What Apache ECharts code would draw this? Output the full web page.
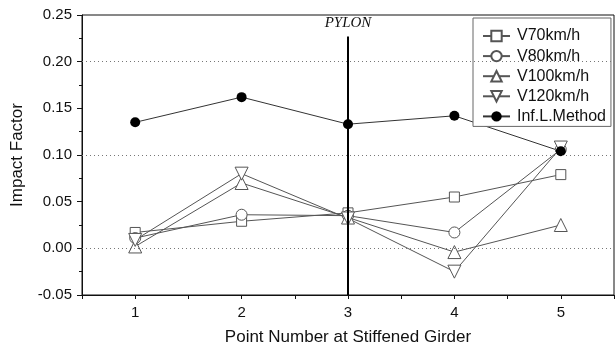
<!DOCTYPE html>
<html>
<head>
<meta charset="utf-8">
<script src="https://cdn.jsdelivr.net/npm/echarts@6/dist/echarts.min.js"></script>
<style>
  html, body { margin: 0; padding: 0; background: #fff; }
  #chart { width: 616px; height: 351px; }
</style>
</head>
<body>
<div id="chart"></div>
<script>
// Measuring points along the stiffened girder
const pointNumbers = [1, 2, 3, 4, 5];

// Impact factor per speed case
const v70 = [0.017, 0.029, 0.038, 0.055, 0.079];
const v80 = [0.011, 0.036, 0.035, 0.017, 0.106];
const v100 = [0.002, 0.070, 0.033, -0.004, 0.025];
const v120 = [0.009, 0.080, 0.032, -0.025, 0.108];
const infLine = [0.135, 0.162, 0.133, 0.142, 0.104];

// Reference grid lines and pylon position
const gridLineValues = [0.0, 0.1, 0.2];
const pylonPoint = 3;
const pylonTop = 0.227;
const yMin = -0.05, yMax = 0.25;

const FONT = '"Liberation Sans", Arial, sans-serif';
const pairs = arr => pointNumbers.map((x, i) => [x, arr[i]]);

const openMarker = {
  color: '#fff',
  borderColor: '#555',
  borderWidth: 1
};
const thinLine = { color: '#555', width: 1 };

function speedSeries(name, data, symbol, size, rotate) {
  return {
    name: name,
    type: 'line',
    data: pairs(data),
    symbol: symbol,
    symbolSize: size,
    symbolRotate: rotate || 0,
    showAllSymbol: true,
    lineStyle: thinLine,
    itemStyle: openMarker,
    emphasis: { disabled: true },
    animation: false
  };
}

const chart = echarts.init(document.getElementById('chart'), null, { renderer: 'canvas' });

chart.setOption({
  animation: false,
  backgroundColor: '#fff',
  textStyle: { fontFamily: FONT },
  grid: {
    left: 82, right: 2, top: 15, bottom: 56,
    show: true,
    borderColor: '#111',
    borderWidth: 1,
    backgroundColor: 'transparent'
  },
  xAxis: {
    type: 'value',
    min: 0.5, max: 5.5, interval: 0.5,
    name: 'Point Number at Stiffened Girder',
    nameLocation: 'middle',
    nameGap: 34,
    nameTextStyle: { fontSize: 17, color: '#111', fontFamily: FONT },
    axisLine: { show: true, onZero: false, lineStyle: { color: '#111', width: 1 } },
    axisTick: { show: true, inside: false, length: 4, lineStyle: { color: '#111' } },
    axisLabel: { show: true, customValues: pointNumbers, fontSize: 15, color: '#111', margin: 10, fontFamily: FONT },
    splitLine: { show: false }
  },
  yAxis: {
    type: 'value',
    min: yMin, max: yMax, interval: 0.05,
    name: 'Impact Factor',
    nameLocation: 'middle',
    nameGap: 56,
    nameTextStyle: { fontSize: 17, color: '#111', fontFamily: FONT },
    axisLine: { show: true, onZero: false, lineStyle: { color: '#111', width: 1 } },
    axisTick: { show: true, inside: false, length: 5, lineStyle: { color: '#111' } },
    minorTick: { show: true, splitNumber: 2, length: 3, lineStyle: { color: '#111' } },
    axisLabel: {
      fontSize: 15, color: '#111', margin: 10, fontFamily: FONT,
      formatter: v => (Math.abs(v) < 1e-9 ? 0 : v).toFixed(2)
    },
    splitLine: { show: false }
  },
  legend: {
    orient: 'vertical',
    left: 473, top: 18,
    backgroundColor: '#fff',
    borderColor: '#666',
    borderWidth: 1,
    borderRadius: 0,
    padding: [10, 5, 2, 9],
    itemWidth: 27,
    itemHeight: 13,
    itemGap: 4.1,
    textStyle: { fontSize: 16, color: '#111', fontFamily: FONT, padding: [0, 0, 0, 2] },
    data: ['V70km/h', 'V80km/h', 'V100km/h', 'V120km/h', 'Inf.L.Method']
  },
  series: [
    // Dotted reference lines and the pylon marker
    {
      name: 'guides',
      type: 'line',
      data: [],
      silent: true,
      markLine: {
        silent: true,
        symbol: ['none', 'none'],
        animation: false,
        data: gridLineValues.map(v => ({
          yAxis: v,
          lineStyle: { color: '#777', width: 1, type: [1, 3] },
          label: { show: false }
        })).concat([[
          {
            coord: [pylonPoint, pylonTop],
            lineStyle: { color: '#000', width: 2, type: 'solid' },
            label: {
              show: true,
              position: 'start',
              formatter: 'PYLON',
              fontFamily: '"Liberation Serif", "Times New Roman", serif',
              fontStyle: 'italic',
              fontSize: 15,
              color: '#111',
              distance: 6
            }
          },
          { coord: [pylonPoint, yMin] }
        ]])
      }
    },
    speedSeries('V70km/h', v70, 'rect', 10),
    speedSeries('V80km/h', v80, 'circle', 11),
    speedSeries('V100km/h', v100, 'triangle', 13),
    speedSeries('V120km/h', v120, 'triangle', 13, 180),
    {
      name: 'Inf.L.Method',
      type: 'line',
      data: pairs(infLine),
      symbol: 'circle',
      symbolSize: 10,
      lineStyle: { color: '#333', width: 1 },
      itemStyle: { color: '#000', borderColor: '#000', borderWidth: 0 },
      emphasis: { disabled: true },
      animation: false
    }
  ]
});
</script>
</body>
</html>
